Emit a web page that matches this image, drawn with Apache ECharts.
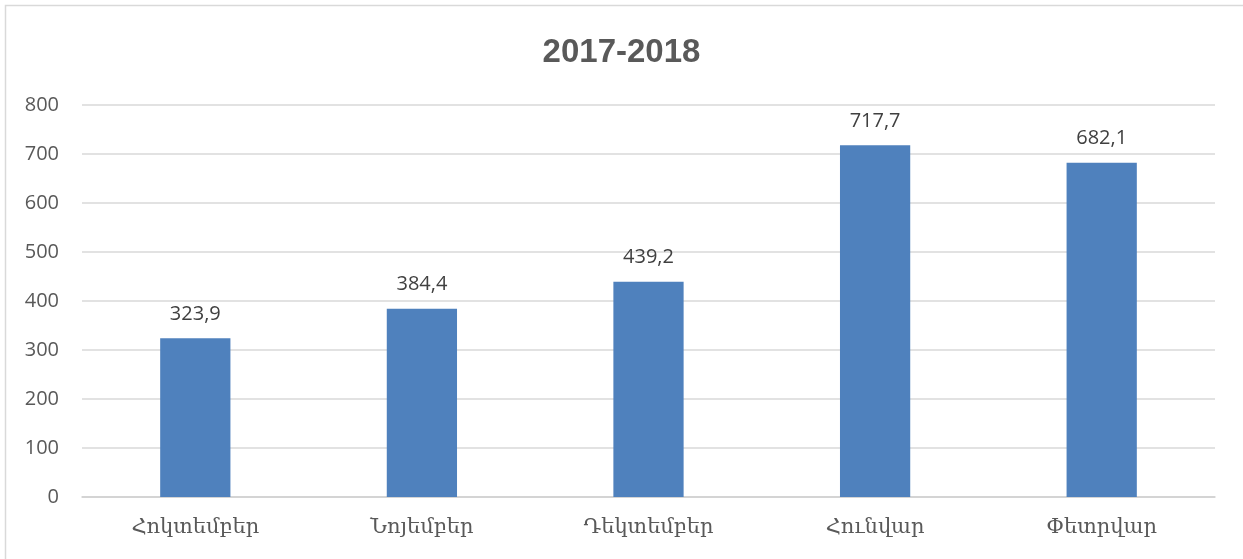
<!DOCTYPE html>
<html><head><meta charset="utf-8">
<script src="https://cdn.jsdelivr.net/npm/echarts@6/dist/echarts.min.js"></script>
<style>html,body{margin:0;padding:0;background:#fff}#c{width:1243px;height:559px}</style>
</head><body><div id="c"></div>
<script>
var categories = ['Հոկտեմբեր', 'Նոյեմբեր', 'Դեկտեմբեր', 'Հունվար', 'Փետրվար'];
var values = [323.9, 384.4, 439.2, 717.7, 682.1];
var title = '2017-2018';
var chart = echarts.init(document.getElementById('c'));
chart.setOption({
  animation: false,
  title: {text: title, left: 'center', top: 31, textStyle: {fontFamily: 'Liberation Sans', fontSize: 33, fontWeight: 'bold', color: '#595959'}},
  graphic: [{type: 'rect', shape: {x: 5.5, y: 5.5, width: 1400, height: 700}, style: {fill: 'none', stroke: '#d9d9d9', lineWidth: 1.5}, silent: true}],
  grid: {left: 82, right: 28, top: 105, bottom: 62},
  xAxis: {type: 'category', data: categories,
    axisLine: {lineStyle: {color: '#d0d0d0', width: 1.5}}, axisTick: {show: false},
    axisLabel: {fontFamily: 'DejaVu Serif', fontSize: 21, color: '#595959', margin: 20}},
  yAxis: {type: 'value', min: 0, max: 800, interval: 100,
    axisLine: {show: false}, axisTick: {show: false},
    splitLine: {lineStyle: {color: '#d9d9d9', width: 1.5}},
    axisLabel: {fontFamily: 'Open Sans', fontSize: 20, color: '#595959', margin: 23}},
  series: [{type: 'bar', data: values, barWidth: '31%', itemStyle: {color: '#4F81BD'},
    label: {show: true, position: 'top', distance: 14, fontFamily: 'Open Sans', fontSize: 20, color: '#404040',
      formatter: function(p){ return String(p.value).replace('.', ','); }}}]
});
</script></body></html>
